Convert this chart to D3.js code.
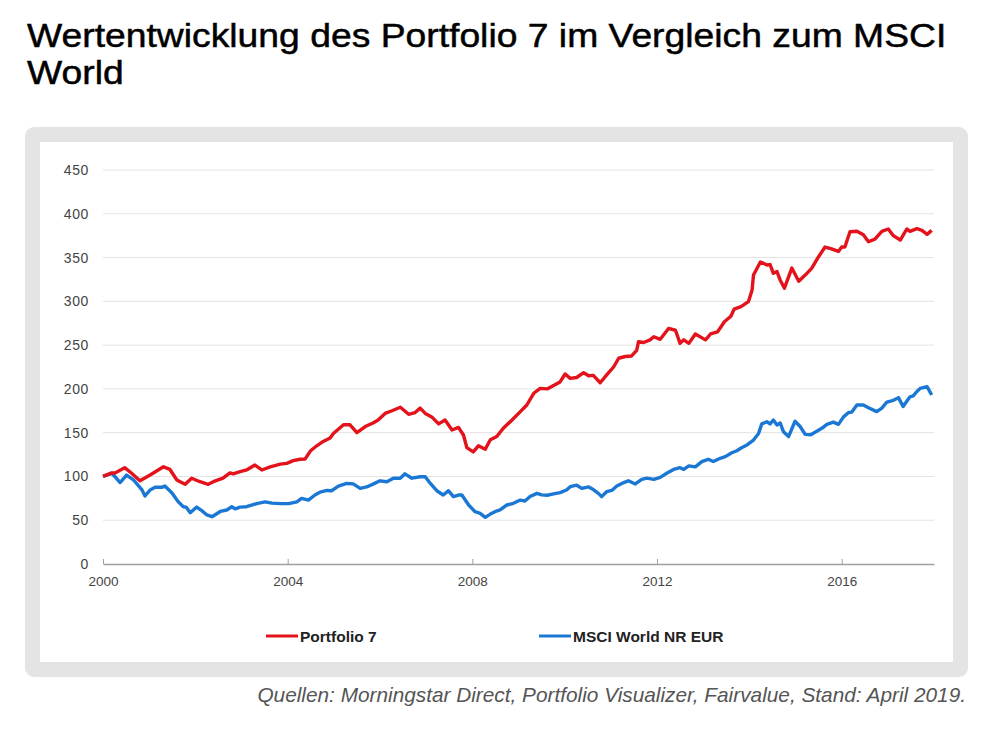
<!DOCTYPE html>
<html>
<head>
<meta charset="utf-8">
<script src="https://cdn.jsdelivr.net/npm/d3@7"></script>
<style>
	body { margin: 0; background: #fff; }
	text { font-family: "Liberation Sans", Arial, sans-serif; }
</style>
</head>
<body>
<svg id="chart" width="1000" height="732"></svg>
<script>
"use strict";

var titleLines = ["Wertentwicklung des Portfolio 7 im Vergleich zum MSCI", "World"];
var sourceNote = "Quellen: Morningstar Direct, Portfolio Visualizer, Fairvalue, Stand: April 2019.";
var seriesNames = ["Portfolio 7", "MSCI World NR EUR"];
var yTicks = [0, 50, 100, 150, 200, 250, 300, 350, 400, 450];
var xTicks = [2000, 2004, 2008, 2012, 2016];

//dates as decimal years
var p7Dates = [2000.00, 2000.19, 2000.26, 2000.47, 2000.62, 2000.80, 2001.02, 2001.31, 2001.45, 2001.60,
	2001.67, 2001.78, 2001.92, 2002.10, 2002.28, 2002.39, 2002.60, 2002.75, 2002.82, 2002.97,
	2003.11, 2003.29, 2003.44, 2003.62, 2003.84, 2003.98, 2004.12, 2004.27, 2004.38, 2004.49,
	2004.63, 2004.77, 2004.92, 2004.99, 2005.21, 2005.35, 2005.50, 2005.68, 2005.86, 2005.96,
	2006.11, 2006.26, 2006.44, 2006.62, 2006.76, 2006.87, 2006.98, 2007.12, 2007.27, 2007.41,
	2007.56, 2007.70, 2007.81, 2007.88, 2008.02, 2008.13, 2008.28, 2008.39, 2008.53, 2008.67,
	2008.86, 2009.04, 2009.18, 2009.33, 2009.47, 2009.62, 2009.76, 2009.90, 2010.01, 2010.12,
	2010.26, 2010.41, 2010.52, 2010.62, 2010.77, 2010.91, 2011.06, 2011.17, 2011.31, 2011.45,
	2011.56, 2011.60, 2011.71, 2011.85, 2011.93, 2012.07, 2012.25, 2012.40, 2012.50, 2012.58,
	2012.69, 2012.83, 2013.05, 2013.16, 2013.31, 2013.46, 2013.60, 2013.67, 2013.82, 2013.98,
	2014.06, 2014.09, 2014.24, 2014.38, 2014.45, 2014.52, 2014.60, 2014.67, 2014.76, 2014.92,
	2015.07, 2015.21, 2015.35, 2015.50, 2015.64, 2015.78, 2015.93, 2016.00, 2016.07, 2016.18,
	2016.33, 2016.47, 2016.58, 2016.72, 2016.87, 2017.01, 2017.12, 2017.27, 2017.41, 2017.48,
	2017.63, 2017.74, 2017.85, 2017.95];
var p7Values = [100, 104, 104, 110, 103.6, 95, 101.6, 111, 108, 96,
	94, 91, 98, 94, 91, 94, 98, 104, 103, 105.5,
	107.4, 113, 107.4, 111, 114, 115, 118, 119.6, 120, 129,
	135, 140, 144, 149, 159, 159, 150, 157, 161.4, 164.5,
	172, 175, 179, 171, 173, 178, 172, 168, 160, 164.5,
	153, 156, 147, 133, 128, 135, 131, 142, 145.6, 155,
	164.5, 174, 181.6, 195, 200.6, 200, 204, 208, 217, 212,
	213, 218.5, 215, 215.5, 207, 216, 225, 235, 237, 237.6,
	244, 254, 253, 256, 259.6, 256.6, 269, 267, 252, 256,
	252, 262.7, 256, 262.7, 265, 276.7, 283, 291, 294, 299.6,
	313, 330, 345, 341.5, 342, 332, 334, 324, 315, 338,
	323, 330, 337.7, 351, 362, 360, 357, 362, 362, 379.5,
	380, 376, 368, 371, 380, 382.6, 375, 370, 382.6, 380,
	383, 381, 376.5, 381];

var msciDates = [2000.00, 2000.19, 2000.26, 2000.37, 2000.51, 2000.66, 2000.84, 2000.91, 2001.02, 2001.13,
	2001.27, 2001.34, 2001.49, 2001.63, 2001.74, 2001.80, 2001.89, 2002.03, 2002.14, 2002.25,
	2002.36, 2002.54, 2002.68, 2002.79, 2002.86, 2002.97, 2003.11, 2003.33, 2003.51, 2003.66,
	2003.84, 2004.02, 2004.20, 2004.30, 2004.45, 2004.59, 2004.70, 2004.85, 2004.95, 2005.10,
	2005.28, 2005.42, 2005.57, 2005.71, 2005.86, 2006.00, 2006.15, 2006.29, 2006.44, 2006.54,
	2006.69, 2006.87, 2006.98, 2007.09, 2007.23, 2007.37, 2007.48, 2007.59, 2007.70, 2007.77,
	2007.92, 2008.06, 2008.17, 2008.28, 2008.39, 2008.49, 2008.60, 2008.75, 2008.89, 2009.04,
	2009.14, 2009.25, 2009.40, 2009.50, 2009.62, 2009.76, 2009.90, 2010.04, 2010.12, 2010.26,
	2010.37, 2010.52, 2010.62, 2010.73, 2010.80, 2010.91, 2011.02, 2011.13, 2011.28, 2011.38,
	2011.53, 2011.67, 2011.78, 2011.93, 2012.07, 2012.21, 2012.36, 2012.50, 2012.58, 2012.69,
	2012.83, 2012.97, 2013.11, 2013.22, 2013.37, 2013.48, 2013.62, 2013.73, 2013.84, 2013.95,
	2014.09, 2014.20, 2014.27, 2014.38, 2014.45, 2014.52, 2014.60, 2014.67, 2014.74, 2014.85,
	2014.99, 2015.10, 2015.21, 2015.33, 2015.47, 2015.57, 2015.68, 2015.82, 2015.93, 2016.04,
	2016.15, 2016.22, 2016.33, 2016.47, 2016.58, 2016.76, 2016.87, 2016.98, 2017.12, 2017.23,
	2017.33, 2017.48, 2017.55, 2017.63, 2017.70, 2017.85, 2017.95];
var msciValues = [100, 103.6, 99.7, 93, 101.6, 96, 85, 77.7, 84.5, 87.6,
	87.6, 89, 81.4, 71, 65.4, 65, 58.6, 65, 61, 56,
	54, 60, 61.7, 65.4, 63, 65, 65.4, 69, 71, 69.5,
	69, 69, 71, 75, 73, 78.8, 82, 84, 83.7, 89,
	92, 91.5, 86.4, 88, 91.5, 95, 94, 98, 98, 103,
	98, 99.7, 99.7, 92, 83.7, 78.8, 83.7, 77, 78.8, 79,
	67.4, 59.7, 57.9, 53.3, 57, 59.7, 61.7, 67.4, 69.3, 73,
	72, 77, 80.7, 79, 78.5, 80, 81.5, 84.5, 88.3, 90,
	86.4, 88, 85, 80.7, 77, 82.6, 84, 89, 93, 95,
	91.4, 96.7, 98, 96.7, 99, 103.6, 108, 110, 108, 112,
	111, 117, 119.6, 117, 120.7, 122.6, 127, 129.4, 133, 136,
	141.6, 149, 160, 162.5, 160, 164.5, 158.7, 161, 151, 145.5,
	163, 157, 148, 147.6, 152, 155, 159.5, 162, 159.5, 168,
	173, 173.5, 181.6, 181.6, 178.5, 174, 178, 185, 187, 190,
	180, 191, 192, 197, 200.6, 202.6, 193];

var colors = ["#e3121b", "#1a78d4"];

var svg = d3.select("#chart");

//title, two lines; stretched sideways so the first line spans the original width
var titleGroup = svg.append("g");
var title = titleGroup.selectAll(".title")
	.data(titleLines)
	.enter()
	.append("text")
	.attr("class", "title")
	.attr("x", 0)
	.attr("y", function(d, i){ return 47 + i*37})
	.style("font-size", "34px")
	.style("fill", "#000")
	.style("stroke", "#000")
	.style("stroke-width", "0.5px")
	.text(function(d){ return d});
var stretch = 920/title.node().getComputedTextLength();
titleGroup.attr("transform", "translate(27,0) scale(" + stretch.toFixed(3) + ",1)");

//grey frame and white plot card
svg.append("rect")
	.attr("x", 25).attr("y", 127)
	.attr("width", 943).attr("height", 550)
	.attr("rx", 9)
	.style("fill", "#e4e4e4");
svg.append("rect")
	.attr("x", 40).attr("y", 142)
	.attr("width", 913).attr("height", 520)
	.style("fill", "#fff");

var x = d3.scaleLinear().domain([2000, 2018]).range([103, 934]);
var y = d3.scaleLinear().domain([0, 450]).range([564, 170]);

//horizontal gridlines
svg.selectAll(".grid")
	.data(yTicks.filter(function(d){ return d > 0}))
	.enter()
	.append("line")
	.attr("class", "grid")
	.attr("x1", 103).attr("x2", 934)
	.attr("y1", function(d){ return y(d)})
	.attr("y2", function(d){ return y(d)})
	.style("stroke", "#e3e3e3")
	.style("stroke-width", "1px");

var yAxis = svg.append("g")
	.attr("transform", "translate(92,0)")
	.call(d3.axisLeft(y).tickValues(yTicks).tickSize(0).tickPadding(3));
yAxis.select(".domain").remove();
yAxis.selectAll("text")
	.style("font-size", "14px")
	.style("letter-spacing", "0.6px")
	.style("fill", "#444");

var xAxis = svg.append("g")
	.attr("transform", "translate(0,564)")
	.call(d3.axisBottom(x).tickValues(xTicks).tickFormat(d3.format("d")).tickSizeInner(-5).tickSizeOuter(0).tickPadding(12));
xAxis.select(".domain").style("stroke", "#a0a0a0").style("stroke-width", "1.5px");
xAxis.selectAll(".tick line").style("stroke", "#a0a0a0");
xAxis.selectAll("text")
	.style("font-size", "13.5px")
	.style("fill", "#444");

var line = d3.line()
	.x(function(d){ return x(d[0])})
	.y(function(d){ return y(d[1])});

var series = [d3.zip(p7Dates, p7Values), d3.zip(msciDates, msciValues)];

//draw the blue first so the red ends up on top, like the original
svg.selectAll(".series")
	.data([1, 0])
	.enter()
	.append("path")
	.attr("class", "series")
	.attr("d", function(i){ return line(series[i])})
	.style("fill", "none")
	.style("stroke", function(i){ return colors[i]})
	.style("stroke-width", "3.4px")
	.style("stroke-linejoin", "round");

//legend
var legend = svg.selectAll(".legend")
	.data(seriesNames)
	.enter()
	.append("g")
	.attr("class", "legend")
	.attr("transform", function(d, i){ return "translate(" + (266 + i*273) + ",636)"});
legend.append("line")
	.attr("x1", 0).attr("x2", 32)
	.style("stroke", function(d, i){ return colors[i]})
	.style("stroke-width", "3px");
legend.append("text")
	.attr("x", 34)
	.attr("y", 5.5)
	.style("font-size", "15.5px")
	.style("font-weight", "bold")
	.style("fill", "#222")
	.text(function(d){ return d});

//source note under the frame, sized to span the original width
var note = svg.append("text")
	.attr("x", 966)
	.attr("y", 702)
	.attr("text-anchor", "end")
	.style("font-size", "17px")
	.style("font-style", "italic")
	.style("fill", "#555")
	.text(sourceNote);
note.style("font-size", (17*710/note.node().getComputedTextLength()).toFixed(1) + "px");
</script>
</body>
</html>
